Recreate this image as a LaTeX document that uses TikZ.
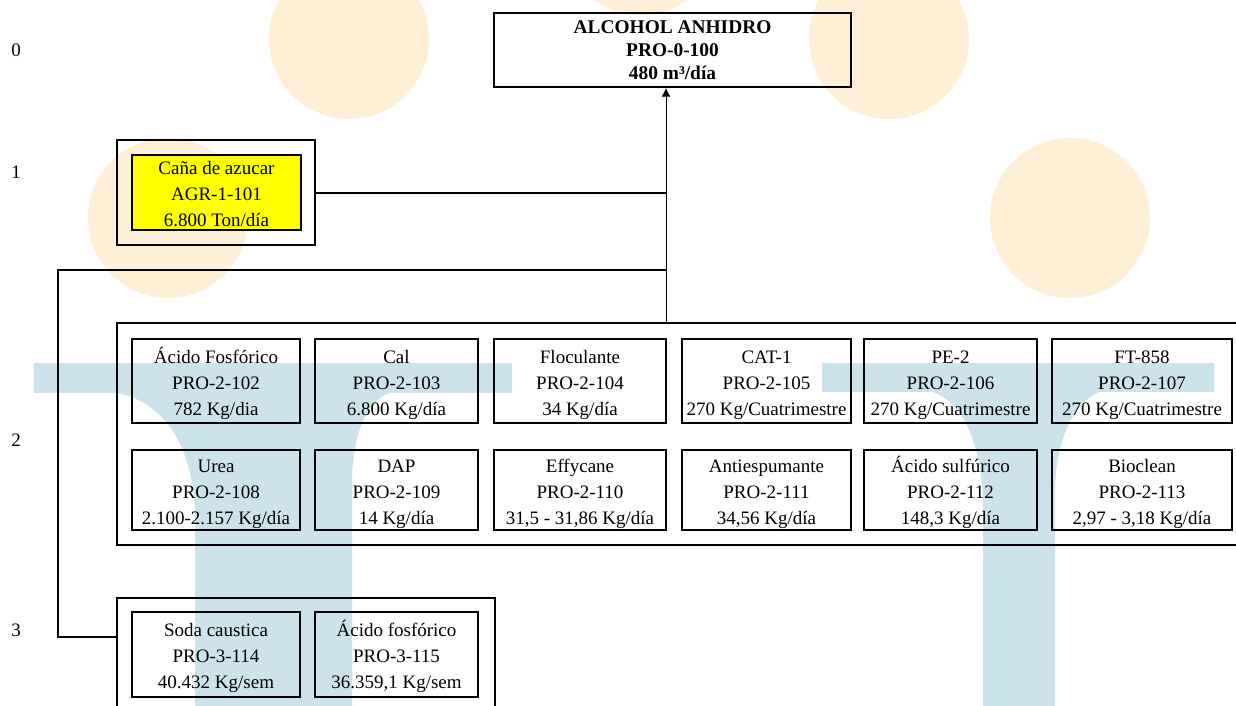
\documentclass[tikz,border=0pt]{standalone}
\usepackage{fontspec}
\setmainfont{Liberation Serif}
\usetikzlibrary{arrows.meta}
\definecolor{wmorange}{RGB}{255,239,214}
\definecolor{wmblue}{RGB}{205,227,235}
\definecolor{canayellow}{RGB}{255,255,0}
\tikzset{
  outerbox/.style={draw=black, line width=0.7pt, inner sep=0pt},
  itembox/.style={draw=black, line width=1pt, inner sep=0pt, align=center,
    font=\fontsize{9.5}{13}\selectfont, text height=35.5pt, text depth=1.5pt},
  toptitle/.style={draw=black, line width=1pt, inner sep=0pt, align=center,
    font=\fontsize{9.7}{11.5}\selectfont\bfseries},
  lvl/.style={font=\fontsize{9.5}{11}\selectfont, inner sep=0pt},
  conn/.style={line width=0.8pt},
  thickconn/.style={line width=1pt},
  arrowline/.style={line width=0.5pt, -{Latex[length=4.3pt,width=4.5pt]}},
  c1/.style={minimum width=84pt},
  c2/.style={minimum width=81.5pt},
  c3/.style={minimum width=86pt},
  c4/.style={minimum width=84.5pt},
  c5/.style={minimum width=86.5pt},
  c6/.style={minimum width=90pt},
  r1/.style={minimum height=42pt},
  r2/.style={minimum height=40pt},
  r3/.style={minimum height=42.5pt},
}
\begin{document}
\begin{tikzpicture}[x=0.5pt,y=-0.5pt]
\useasboundingbox (0,0) rectangle (1236,706);
\fill[white] (0,0) rectangle (1236,706);
% watermark
\fill[wmorange] (349,39) circle[radius=80];
\fill[wmorange] (641,-65) circle[radius=80];
\fill[wmorange] (889,39) circle[radius=80];
\fill[wmorange] (168,218) circle[radius=80];
\fill[wmorange] (1070,218) circle[radius=80];
\fill[wmblue] (34,363) rectangle (512,393);
\fill[wmblue] (111,392) .. controls (170,400) and (195,455) .. (195,520)
  -- (195,720) -- (352,720) -- (352,487) .. controls (352,430) and (368,398) .. (393,392) -- cycle;
\fill[wmblue] (822,363) rectangle (1214,392);
\fill[wmblue] (929,391) .. controls (965,400) and (983,450) .. (983,507)
  -- (983,720) -- (1055,720) -- (1055,493) .. controls (1055,440) and (1075,398) .. (1103,391) -- cycle;

% level labels
\node[lvl] (lv0) at (16,50) {0};
\node[lvl] (lv1) at (16,172) {1};
\node[lvl] (lv2) at (16,440) {2};
\node[lvl] (lv3) at (16,630) {3};

% level 0
\node[toptitle, minimum width=178.5pt, minimum height=37pt] (alc) at (672.5,50)
  {ALCOHOL ANHIDRO\\PRO-0-100\\480 m³/día};

% level 1
\node[outerbox, minimum width=99pt, minimum height=52.5pt] (l1) at (216,192.5) {};
\node[itembox, fill=canayellow, minimum width=84.5pt, minimum height=37.5pt] (cana) at (216.5,192.5)
  {Caña de azucar\\AGR-1-101\\6.800 Ton/día};

% level 2
\node[outerbox, minimum width=566.5pt, minimum height=111pt] (l2) at (683.5,434) {};
\node[itembox,c1,r1] (p102) at (216,381) {Ácido Fosfórico\\PRO-2-102\\782 Kg/dia};
\node[itembox,c2,r1] (p103) at (396.5,381) {Cal\\PRO-2-103\\6.800 Kg/día};
\node[itembox,c3,r1] (p104) at (580,381) {Floculante\\PRO-2-104\\34 Kg/día};
\node[itembox,c4,r1] (p105) at (766.5,381) {CAT-1\\PRO-2-105\\270 Kg/Cuatrimestre};
\node[itembox,c5,r1] (p106) at (950.5,381) {PE-2\\PRO-2-106\\270 Kg/Cuatrimestre};
\node[itembox,c6,r1] (p107) at (1142,381) {FT-858\\PRO-2-107\\270 Kg/Cuatrimestre};
\node[itembox,c1,r2] (p108) at (216,490) {Urea\\PRO-2-108\\2.100-2.157 Kg/día};
\node[itembox,c2,r2] (p109) at (396.5,490) {DAP\\PRO-2-109\\14 Kg/día};
\node[itembox,c3,r2] (p110) at (580,490) {Effycane\\PRO-2-110\\31,5 - 31,86 Kg/día};
\node[itembox,c4,r2] (p111) at (766.5,490) {Antiespumante\\PRO-2-111\\34,56 Kg/día};
\node[itembox,c5,r2] (p112) at (950.5,490) {Ácido sulfúrico\\PRO-2-112\\148,3 Kg/día};
\node[itembox,c6,r2] (p113) at (1142,490) {Bioclean\\PRO-2-113\\2,97 - 3,18 Kg/día};

% level 3
\node[outerbox, minimum width=189pt, minimum height=61pt] (l3) at (306,659) {};
\node[itembox,c1,r3] (p114) at (216,654.5) {Soda caustica\\PRO-3-114\\40.432 Kg/sem};
\node[itembox,c2,r3] (p115) at (396.5,654.5) {Ácido fosfórico\\PRO-3-115\\36.359,1 Kg/sem};

% connectors
\coordinate (trunk) at (666,0);
\coordinate (jL) at (666,270);
\coordinate (cL) at (58,270);
\coordinate (l3in) at (117,637);
\draw[arrowline] (l2.north -| trunk) -- (alc.south -| trunk);
\draw[thickconn] (l1.east) -- (l1.east -| trunk);
\draw[conn] (l3.west |- l3in) -| (cL) -- (jL);
\end{tikzpicture}
\end{document}
